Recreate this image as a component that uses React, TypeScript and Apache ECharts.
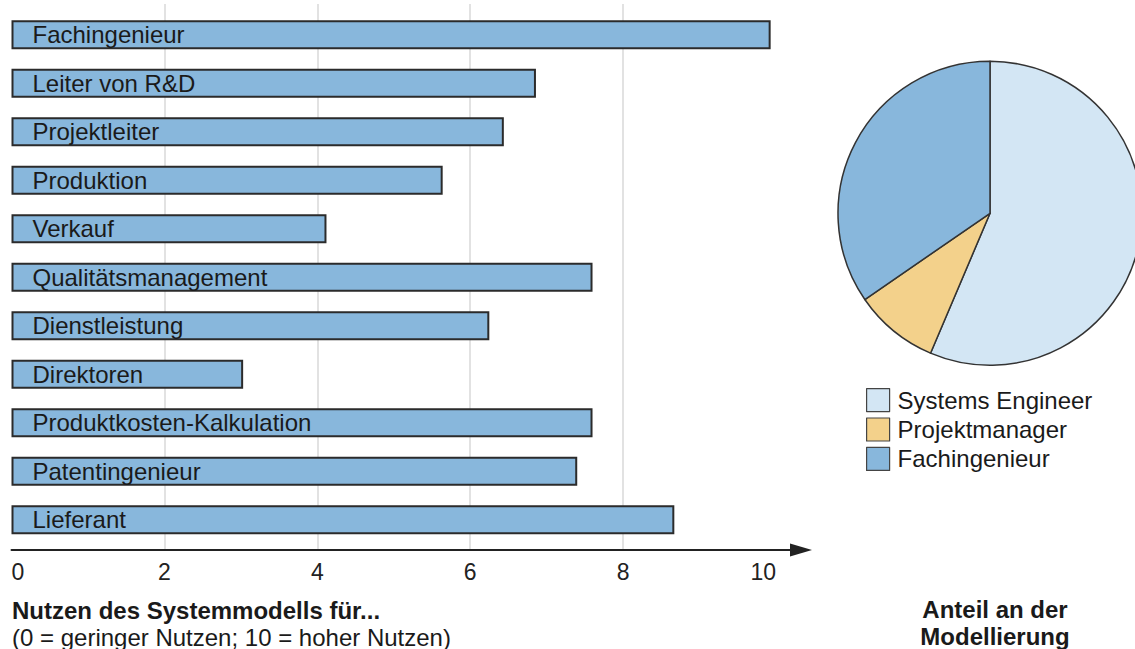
import React, { useEffect, useRef } from "react";
import * as echarts from "echarts";

const categories = [
  "Fachingenieur",
  "Leiter von R&D",
  "Projektleiter",
  "Produktion",
  "Verkauf",
  "Qualitätsmanagement",
  "Dienstleistung",
  "Direktoren",
  "Produktkosten-Kalkulation",
  "Patentingenieur",
  "Lieferant",
];
const benefitValues = [9.93, 6.86, 6.44, 5.64, 4.12, 7.6, 6.25, 3.03, 7.6, 7.4, 8.67];

const pieNames = ["Systems Engineer", "Projektmanager", "Fachingenieur"];
const pieValues = [56.4, 9.0, 34.6];
const pieColors = ["#d3e6f4", "#f3d18b", "#88b7dc"];

const axisTicks = { min: 0, max: 10, interval: 2 };

const FONT = "'Liberation Sans', Arial, Helvetica, sans-serif";
const DARK = "#222222";

export default function App() {
  const ref = useRef<HTMLDivElement>(null);

  useEffect(() => {
    if (!ref.current) return;
    const chart = echarts.init(ref.current, undefined, { renderer: "svg" });
    const option: any = {
      animation: false,
      backgroundColor: "#ffffff",
      textStyle: { fontFamily: FONT },
      title: [
        {
          text: "Nutzen des Systemmodells für...",
          left: 7,
          top: 593,
          textStyle: { fontFamily: FONT, fontSize: 24, fontWeight: "bold", color: "#1a1a1a" },
        },
        {
          text: "(0 = geringer Nutzen; 10 = hoher Nutzen)",
          left: 7,
          top: 620,
          textStyle: { fontFamily: FONT, fontSize: 24, fontWeight: "normal", color: "#1a1a1a" },
        },
        {
          text: "Anteil an der\nModellierung",
          left: 990,
          top: 591,
          textAlign: "center",
          textStyle: {
            fontFamily: FONT,
            fontSize: 24,
            fontWeight: "bold",
            color: "#1a1a1a",
            lineHeight: 27,
          },
        },
      ],
      legend: {
        data: pieNames,
        orient: "vertical",
        left: 866,
        top: 388,
        itemWidth: 23,
        itemHeight: 23,
        itemGap: 5.2,
        icon: "rect",
        padding: 0,
        selectedMode: false,
        itemStyle: { borderColor: "#444", borderWidth: 1.2 },
        textStyle: {
          fontFamily: FONT,
          fontSize: 24,
          lineHeight: 23,
          color: "#1a1a1a",
          padding: [0, 0, 0, 3],
        },
      },
      grid: [
        { left: 11.5, width: 764.5, top: 10.45, height: 533.5, containLabel: false },
        { left: 11.5, width: 764.5, top: 4, height: 546, containLabel: false },
        { left: 11.5, width: 789.5, top: 549, height: 1, containLabel: false },
      ],
      xAxis: [
        {
          gridIndex: 0,
          type: "value",
          min: axisTicks.min,
          max: axisTicks.max,
          interval: axisTicks.interval,
          show: false,
        },
        {
          gridIndex: 1,
          type: "value",
          min: axisTicks.min,
          max: axisTicks.max,
          interval: axisTicks.interval,
          axisLine: { show: false },
          axisTick: { show: false },
          splitLine: {
            show: true,
            showMinLine: false,
            showMaxLine: false,
            lineStyle: { color: "#e2e2e2", width: 2 },
          },
          axisLabel: {
            show: true,
            margin: 10,
            fontSize: 23,
            color: DARK,
            fontFamily: FONT,
            alignMinLabel: "left",
            alignMaxLabel: "right",
          },
        },
        {
          gridIndex: 2,
          type: "value",
          min: 0,
          max: 1,
          axisLine: {
            show: true,
            symbol: ["none", "triangle"],
            symbolSize: [13, 22],
            lineStyle: { color: DARK, width: 2 },
          },
          axisTick: { show: false },
          axisLabel: { show: false },
          splitLine: { show: false },
        },
      ],
      yAxis: [
        {
          gridIndex: 0,
          type: "category",
          data: categories,
          inverse: true,
          show: false,
        },
        { gridIndex: 1, type: "value", show: false },
        { gridIndex: 2, type: "value", show: false },
      ],
      series: [
        {
          type: "bar",
          xAxisIndex: 0,
          yAxisIndex: 0,
          data: benefitValues,
          barWidth: 29,
          itemStyle: { color: "#88b7dc", borderColor: "#2b2b2b", borderWidth: 2 },
          label: {
            show: true,
            position: "insideLeft",
            distance: 21,
            formatter: (p: any) => categories[p.dataIndex],
            fontFamily: FONT,
            fontSize: 24,
            color: "#1a1a1a",
          },
          silent: true,
        },
        {
          type: "pie",
          center: [990, 213.3],
          radius: 152,
          startAngle: 90,
          clockwise: true,
          label: { show: false },
          labelLine: { show: false },
          silent: true,
          itemStyle: { borderColor: "#333333", borderWidth: 1.5 },
          data: pieNames.map((n, i) => ({
            name: n,
            value: pieValues[i],
            itemStyle: { color: pieColors[i] },
          })),
        },
      ],
    };
    chart.setOption(option);
    return () => chart.dispose();
  }, []);

  return (
    <div
      ref={ref}
      style={{ position: "fixed", left: 0, top: 0, width: 1135, height: 649 }}
    />
  );
}
